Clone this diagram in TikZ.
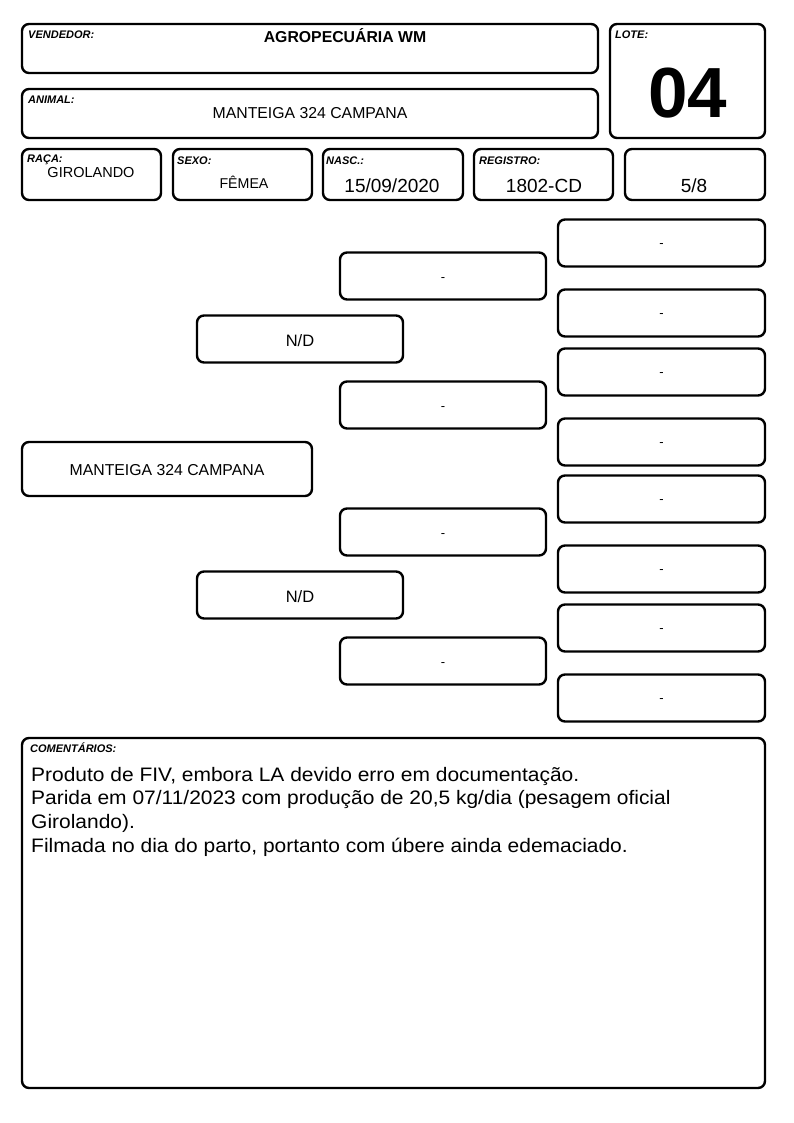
\documentclass[tikz,border=0pt]{standalone}
\usepackage{fontspec}
\setmainfont{Liberation Sans}
\newfontfamily\comentfont[FakeStretch=1.075]{Liberation Sans}
\usetikzlibrary{positioning}

\tikzset{
  card/.style={draw, line width=2.4pt, rounded corners=7pt, inner sep=0pt},
  tag/.style={anchor=north west, inner sep=0pt, font=\fontsize{11}{12}\selectfont\bfseries\itshape},
  val/.style={anchor=base, inner sep=0pt},
  gen1/.style={card, minimum width=206pt, minimum height=47pt, text height=14.8pt, text depth=0pt, font=\fontsize{16.5}{18}\selectfont},
  gen2/.style={card, minimum width=206pt, minimum height=47pt, text height=11pt, text depth=0pt, font=\fontsize{13}{15}\selectfont},
  gen3/.style={card, minimum width=207pt, minimum height=47pt, text height=9pt, text depth=0pt, font=\fontsize{13}{15}\selectfont},
}

\begin{document}
\begin{tikzpicture}[x=1pt, y=-1pt]

\useasboundingbox (0,0) rectangle (794,1123);

% header
\node[card, minimum width=576pt, minimum height=49pt] (vendedor) at (310,48.5) {};
\node[card, minimum width=155pt, minimum height=114pt] (lote) at (687.5,81) {};
\node[card, minimum width=576pt, minimum height=49pt] (animal) at (310,113.5) {};

\node[tag] (tvendedor) at (28,31) {VENDEDOR:};
\node[val, font=\fontsize{15.8}{18}\selectfont\bfseries] (nvendedor) at (345,43) {AGROPECUÁRIA WM};
\node[tag] (tlote) at (615,31) {LOTE:};
\node[val, font=\fontsize{71}{71}\selectfont\bfseries] (nlote) at (687.5,118) {04};
\node[tag] (tanimal) at (28,95.5) {ANIMAL:};
\node[val, font=\fontsize{15.8}{18}\selectfont] (nanimal) at (310,119) {MANTEIGA 324 CAMPANA};

% dados
\foreach \x/\w/\n in {91.5/139/raca, 242.5/139/sexo, 393/140/nasc, 543.5/139/registro, 695/140/grau}
{
    \node[card, minimum width=\w pt, minimum height=51pt] (\n) at (\x,174.5) {};
}

\node[tag] (traca) at (27,155) {RAÇA:};
\node[val, font=\fontsize{14.5}{16}\selectfont] (nraca) at (91,178) {GIROLANDO};
\node[tag] (tsexo) at (177,157) {SEXO:};
\node[val, font=\fontsize{14.2}{16}\selectfont] (nsexo) at (244,189) {FÊMEA};
\node[tag] (tnasc) at (326,157) {NASC.:};
\node[val, font=\fontsize{19}{21}\selectfont] (nnasc) at (392,193) {15/09/2020};
\node[tag] (tregistro) at (479,157) {REGISTRO:};
\node[val, font=\fontsize{19}{21}\selectfont] (nregistro) at (544,193) {1802-CD};
\node[val, font=\fontsize{19}{21}\selectfont] (ngrau) at (694,193) {5/8};

% genealogia
\node[card, minimum width=290pt, minimum height=54pt, text height=12pt, text depth=0pt, font=\fontsize{15.8}{18}\selectfont] (base) at (167,469) {MANTEIGA 324 CAMPANA};

\node[gen1] (pai) at (300,339) {N/D};
\node[gen1] (mae) at (300,595) {N/D};

\foreach \y/\n in {276/1, 405/2, 532/3, 661/4}
{
    \node[gen2] (avo\n) at (443,\y) {-};
}

\foreach \y/\n in {243/1, 313/2, 372/3, 442/4, 499/5, 569/6, 628/7, 698/8}
{
    \node[gen3] (bisavo\n) at (661.5,\y) {-};
}

% comentarios
\node[card, minimum width=743pt, minimum height=350pt] (coment) at (393.5,913) {};
\node[tag] (tcoment) at (30,743) {COMENTÁRIOS:};
\node[anchor=north west, inner sep=0pt, align=left, font=\comentfont\fontsize{19.5}{23.6}\selectfont] (ncoment) at (31,767) {Produto de FIV, embora LA devido erro em documentação.\\
Parida em 07/11/2023 com produção de 20,5 kg/dia (pesagem oficial\\
Girolando).\\
Filmada no dia do parto, portanto com úbere ainda edemaciado.};

\end{tikzpicture}
\end{document}
